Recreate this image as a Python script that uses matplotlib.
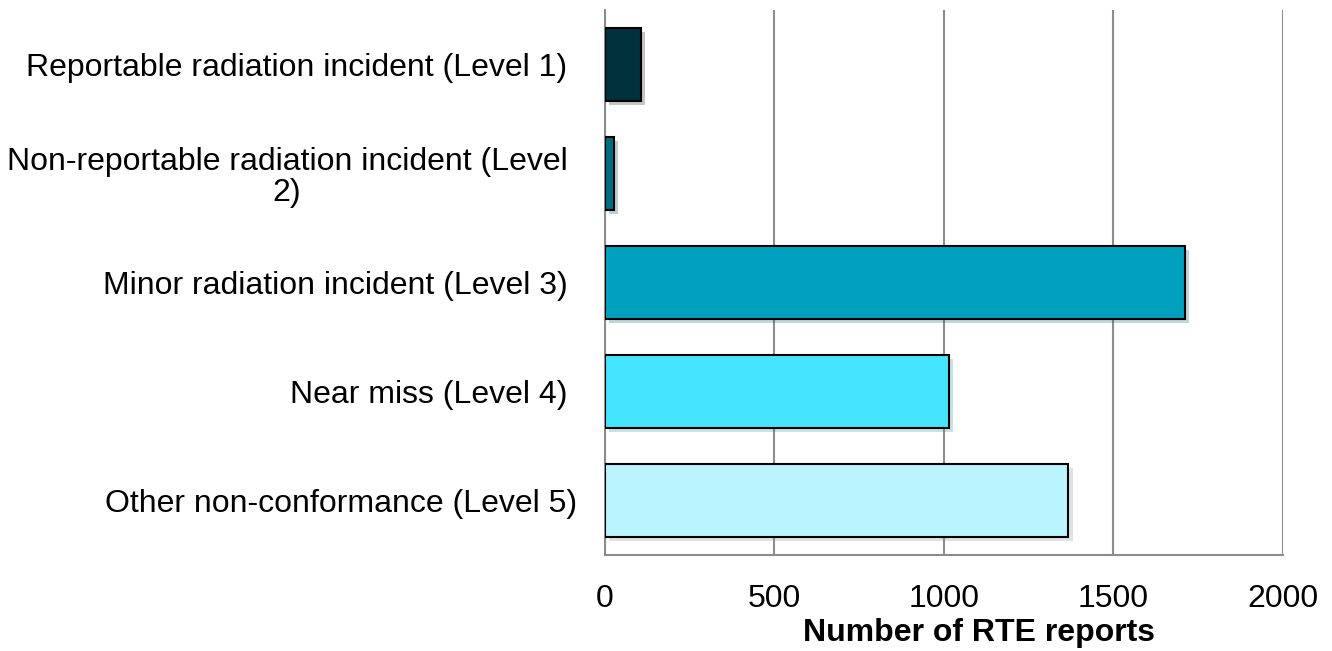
import numpy as np
import matplotlib.pyplot as plt
import matplotlib.patheffects as pe
from matplotlib.transforms import ScaledTranslation

plt.rcParams['font.family'] = ['Liberation Sans', 'DejaVu Sans']

categories = ["Reportable radiation incident (Level 1)",
              "Non-reportable radiation incident (Level\n2)",
              "Minor radiation incident (Level 3)",
              "Near miss (Level 4)",
              "Other non-conformance (Level 5)"]
reports = [106, 26, 1710, 1015, 1367]
colours = ["#00313A", "#006D80", "#00A1BF", "#45E4FF", "#B9F4FF"]

fig = plt.figure(figsize=(13.32, 6.51), dpi=100)
ax = fig.add_axes([0.4542, 0.1475, 0.5090, 0.8371])

pos = np.arange(len(categories))
bars = ax.barh(pos, reports, height=0.67, color=colours,
               edgecolor="black", linewidth=1.5, zorder=3)
for b in bars:
    b.set_path_effects([pe.SimplePatchShadow(offset=(3, -3), alpha=0.25, rho=0.6),
                        pe.Normal()])

ax.set_xlim(0, 2000)
ax.set_ylim(len(categories) - 0.5, -0.5)
ax.set_xticks([0, 500, 1000, 1500, 2000])
ax.set_yticks(pos)
ax.set_yticklabels(categories, fontsize=23, multialignment="center",
                   linespacing=1.05)
ax.tick_params(axis="x", labelsize=23, length=0, pad=21)
ax.tick_params(axis="y", length=0, pad=27)
ax.xaxis.grid(True, color="#8c8c8c", linewidth=1.5, zorder=0)
ax.set_axisbelow(True)

# last label sits a bit closer to the axis in the original
lbl = ax.get_yticklabels()[4]
lbl.set_transform(lbl.get_transform() + ScaledTranslation(0.1, 0, fig.dpi_scale_trans))

for s in ["top", "right"]:
    ax.spines[s].set_visible(False)
for s in ["left", "bottom"]:
    ax.spines[s].set_color("#8c8c8c")
    ax.spines[s].set_linewidth(1.5)

ax.set_xlabel("Number of RTE reports", fontsize=23, fontweight="bold")
ax.xaxis.set_label_coords(0.552, -0.115)

plt.savefig("out.png", dpi=100)
